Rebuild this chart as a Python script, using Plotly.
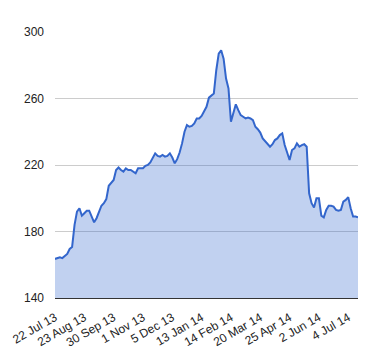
import plotly.graph_objects as go

# Share price, sampled every 2 trading days from 22 Jul 2013
prices = [
    163.5, 164, 164.5, 164, 165, 166.5, 169.5, 170.7, 184, 192,
    194, 189.5, 191, 192.5, 192.5, 189, 185.5, 188, 192, 195.5,
    197, 199.5, 207.5, 209.5, 211, 217, 218.5, 217, 216, 218,
    217, 217, 216, 215, 218, 218, 218, 219.5, 220, 221.5,
    224, 227, 225.5, 225, 226, 225, 225.5, 227, 224.5, 221,
    223.5, 227.5, 233, 240, 244, 243, 243.5, 245, 248, 248,
    249.5, 252, 255, 260.5, 262, 263, 277, 287, 289, 284,
    272, 266, 246, 252, 256.5, 253, 250, 249, 248, 248.5,
    248, 247, 243, 241.5, 239.5, 236, 234.5, 233, 231, 232.5,
    235, 236, 238, 239, 232, 227.5, 223, 229, 230, 233,
    231, 232, 232.5, 231, 203, 197, 194.5, 200, 200, 189.5,
    188.5, 193, 195.5, 195.5, 195, 193, 192.5, 193, 198, 199,
    200.7, 194, 189, 189, 188.5,
]

tick_labels = [
    "22 Jul 13", "23 Aug 13", "30 Sep 13", "1 Nov 13", "5 Dec 13",
    "13 Jan 14", "14 Feb 14", "20 Mar 14", "25 Apr 14", "2 Jun 14", "4 Jul 14",
]
label_every = 12

y_ticks = [140, 180, 220, 260, 300]

x = list(range(len(prices)))

fig = go.Figure()
fig.add_trace(go.Scatter(
    x=x, y=prices, mode="lines",
    line=dict(color="#3366cc", width=2),
    fill="tozeroy", fillcolor="rgba(51,102,204,0.3)",
    hoverinfo="skip",
))

font = dict(family="Liberation Sans, Arial, sans-serif", size=12, color="#222222")

fig.update_layout(
    width=364, height=344,
    margin=dict(l=47, r=14, t=24, b=54),
    paper_bgcolor="white", plot_bgcolor="white",
    showlegend=False,
    font=font,
    xaxis=dict(
        range=[0, len(prices) - 1],
        tickvals=[i * label_every for i in range(len(tick_labels))],
        ticktext=tick_labels,
        tickangle=-30,
        showgrid=False, zeroline=False,
        showline=True, linecolor="#333333", linewidth=1,
        ticks="", tickfont=font, automargin=False,
        ticklabelstandoff=7,
    ),
    yaxis=dict(
        range=[140, 300],
        tickvals=y_ticks,
        showgrid=True, gridcolor="#cccccc", gridwidth=1,
        zeroline=False, showline=False,
        ticks="", ticklabelstandoff=10, tickfont=font, automargin=False,
    ),
)

fig.write_html("out.html")
